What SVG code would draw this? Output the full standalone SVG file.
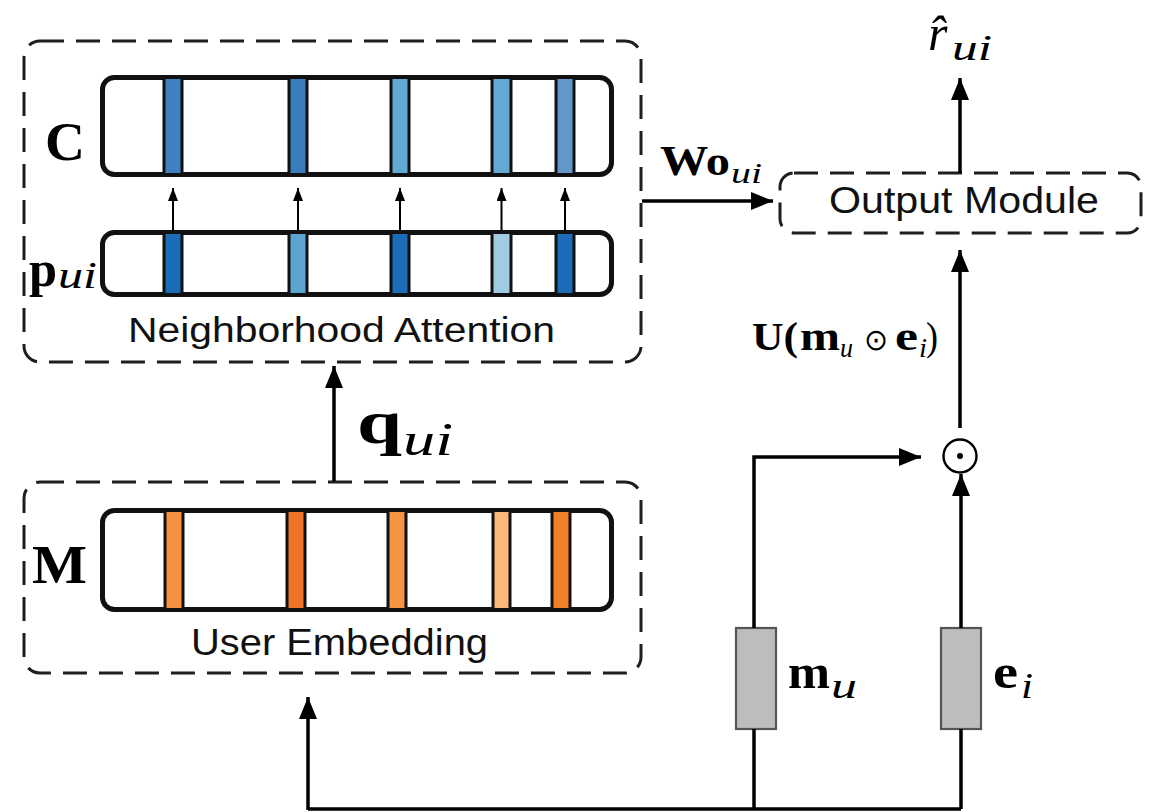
<svg xmlns="http://www.w3.org/2000/svg" width="1163" height="812" viewBox="0 0 1163 812">
  <defs>
    <style>
      .frame { fill: none; stroke: #1e1e1e; stroke-width: 3; stroke-dasharray: 24 12; }
      .bar { fill: #ffffff; stroke: #111; stroke-width: 5; }
      .cell { stroke: #111; stroke-width: 3; }
      .vec { fill: #bdbdbd; stroke: #555; stroke-width: 2.2; }
      .wire { fill: none; stroke: #000; stroke-width: 3.5; }
      .thin { fill: none; stroke: #000; stroke-width: 2; }
      .sans { font-family: "Liberation Sans", Arial, sans-serif; fill: #111; }
      .math { font-family: "Liberation Serif", "Times New Roman", serif; fill: #000; }
      .bold { font-weight: bold; }
      .it { font-style: italic; }
    </style>
    <marker id="head" markerUnits="userSpaceOnUse" markerWidth="24" markerHeight="18" refX="22" refY="9" orient="auto">
      <path d="M0,0 L22,9 L0,18 Z" fill="#000"/>
    </marker>
    <marker id="headSmall" markerUnits="userSpaceOnUse" markerWidth="14" markerHeight="10" refX="13" refY="5" orient="auto">
      <path d="M0,0 L13,5 L0,10 Z" fill="#000"/>
    </marker>
  </defs>
  <rect width="1163" height="812" fill="#ffffff"/>

  <!-- Neighborhood attention module -->
  <g id="neighborhood-attention">
    <rect class="frame" x="24" y="41" width="617" height="321" rx="16"/>
    <rect class="bar" x="102.5" y="77.5" width="509" height="97" rx="12"/>
    <rect class="cell" x="164" y="77.5" width="18" height="97" fill="#3f80c0"/>
    <rect class="cell" x="289" y="77.5" width="18" height="97" fill="#3b7cbd"/>
    <rect class="cell" x="391" y="77.5" width="18" height="97" fill="#62a9d3"/>
    <rect class="cell" x="492" y="77.5" width="19" height="97" fill="#62a9d3"/>
    <rect class="cell" x="556" y="77.5" width="18" height="97" fill="#6397cb"/>
    <rect class="bar" x="102.5" y="232.5" width="509" height="62" rx="12"/>
    <rect class="cell" x="164" y="232.5" width="18" height="62" fill="#1b6db8"/>
    <rect class="cell" x="289" y="232.5" width="18" height="62" fill="#5ca5d3"/>
    <rect class="cell" x="391" y="232.5" width="18" height="62" fill="#1c6db8"/>
    <rect class="cell" x="492" y="232.5" width="19" height="62" fill="#9fcbe3"/>
    <rect class="cell" x="556" y="232.5" width="18" height="62" fill="#1c6db8"/>
    <g class="thin" marker-end="url(#headSmall)">
      <line x1="173" y1="231" x2="173" y2="188"/>
      <line x1="298" y1="231" x2="298" y2="188"/>
      <line x1="400" y1="231" x2="400" y2="188"/>
      <line x1="501.5" y1="231" x2="501.5" y2="188"/>
      <line x1="565" y1="231" x2="565" y2="188"/>
    </g>
    <text class="math bold" x="45" y="160" font-size="54" textLength="40" lengthAdjust="spacingAndGlyphs">C</text>
    <text class="math bold" x="29" y="286" font-size="50" textLength="28" lengthAdjust="spacingAndGlyphs">p</text>
    <text class="math it" x="58" y="288" font-size="38" textLength="39" lengthAdjust="spacingAndGlyphs">ui</text>
    <text class="sans" x="128" y="342" font-size="35" textLength="427" lengthAdjust="spacingAndGlyphs">Neighborhood Attention</text>
  </g>

  <!-- User embedding module -->
  <g id="user-embedding">
    <rect class="frame" x="24" y="482" width="617" height="191" rx="16"/>
    <rect class="bar" x="102.5" y="510.5" width="509" height="99" rx="12"/>
    <rect class="cell" x="165" y="510.5" width="18" height="99" fill="#f79141"/>
    <rect class="cell" x="287" y="510.5" width="18" height="99" fill="#ee7425"/>
    <rect class="cell" x="388" y="510.5" width="18" height="99" fill="#f79443"/>
    <rect class="cell" x="493" y="510.5" width="17" height="99" fill="#fcb878"/>
    <rect class="cell" x="552" y="510.5" width="18" height="99" fill="#f07f28"/>
    <text class="math bold" x="32" y="583" font-size="54" textLength="55" lengthAdjust="spacingAndGlyphs">M</text>
    <text class="sans" x="191" y="655" font-size="37" textLength="297" lengthAdjust="spacingAndGlyphs">User Embedding</text>
  </g>

  <!-- Output module -->
  <g id="output-module">
    <rect class="frame" x="780" y="173" width="361" height="60" rx="14"/>
    <text class="sans" x="829" y="213" font-size="36" textLength="270" lengthAdjust="spacingAndGlyphs">Output Module</text>
  </g>

  <!-- Element-wise product -->
  <g id="product">
    <circle cx="960" cy="456" r="16.5" fill="#fff" stroke="#000" stroke-width="2.4"/>
    <circle cx="960" cy="456" r="3" fill="#000"/>
  </g>

  <!-- Memory vector m_u -->
  <g id="memory-vector">
    <rect class="vec" x="736" y="628" width="40" height="101"/>
    <text class="math bold" x="788" y="688" font-size="48" textLength="42" lengthAdjust="spacingAndGlyphs">m</text>
    <text class="math it" x="831" y="698" font-size="36" textLength="26" lengthAdjust="spacingAndGlyphs">u</text>
  </g>

  <!-- Item embedding e_i -->
  <g id="item-vector">
    <rect class="vec" x="941" y="628" width="40" height="101"/>
    <text class="math bold" x="993" y="688" font-size="48" textLength="25" lengthAdjust="spacingAndGlyphs">e</text>
    <text class="math it" x="1021" y="698" font-size="36" textLength="12" lengthAdjust="spacingAndGlyphs">i</text>
  </g>

  <!-- Prediction r-hat -->
  <g id="prediction">
    <text class="math it" x="928" y="50" font-size="50">r&#770;<tspan font-size="36" x="952" y="60" textLength="40" lengthAdjust="spacingAndGlyphs">ui</tspan></text>
  </g>

  <!-- Connectors -->
  <g id="connectors">
    <g class="wire">
      <!-- shared input bus along the bottom -->
      <polyline points="308,809 961,809"/>
      <line x1="308" y1="810" x2="308" y2="697" marker-end="url(#head)"/>
      <line x1="754" y1="809" x2="754" y2="729"/>
      <line x1="961" y1="809" x2="961" y2="729"/>
      <polyline points="754,628 754,457 921,457" marker-end="url(#head)"/>
      <line x1="961" y1="628" x2="961" y2="474" marker-end="url(#head)"/>
      <line x1="960" y1="428" x2="960" y2="250" marker-end="url(#head)"/>
      <line x1="960" y1="173" x2="960" y2="78" marker-end="url(#head)"/>
      <line x1="334" y1="481" x2="334" y2="366" marker-end="url(#head)"/>
      <line x1="642" y1="201" x2="773" y2="201" marker-end="url(#head)"/>
    </g>
    <text class="math bold" x="357" y="443" font-size="62" textLength="45" lengthAdjust="spacingAndGlyphs">q</text>
    <text class="math it" x="403" y="455" font-size="46" textLength="50" lengthAdjust="spacingAndGlyphs">ui</text>
    <text class="math bold" x="660" y="175" font-size="42" textLength="70" lengthAdjust="spacingAndGlyphs">Wo</text>
    <text class="math it" x="731" y="183" font-size="30" textLength="31" lengthAdjust="spacingAndGlyphs">ui</text>
    <text class="math" y="350" font-size="40">
      <tspan class="bold" x="752" textLength="46" lengthAdjust="spacingAndGlyphs">U(</tspan>
      <tspan class="bold" x="800" textLength="40" lengthAdjust="spacingAndGlyphs">m</tspan>
      <tspan class="it" x="840" y="357" font-size="28" textLength="13" lengthAdjust="spacingAndGlyphs">u</tspan>
      <tspan x="864" y="350" font-size="30" textLength="24" lengthAdjust="spacingAndGlyphs">⊙</tspan>
      <tspan class="bold" x="895" textLength="23" lengthAdjust="spacingAndGlyphs">e</tspan>
      <tspan class="it" x="919" y="357" font-size="28" textLength="8" lengthAdjust="spacingAndGlyphs">i</tspan>
      <tspan x="926" y="350" textLength="12" lengthAdjust="spacingAndGlyphs">)</tspan>
    </text>
  </g>
</svg>
